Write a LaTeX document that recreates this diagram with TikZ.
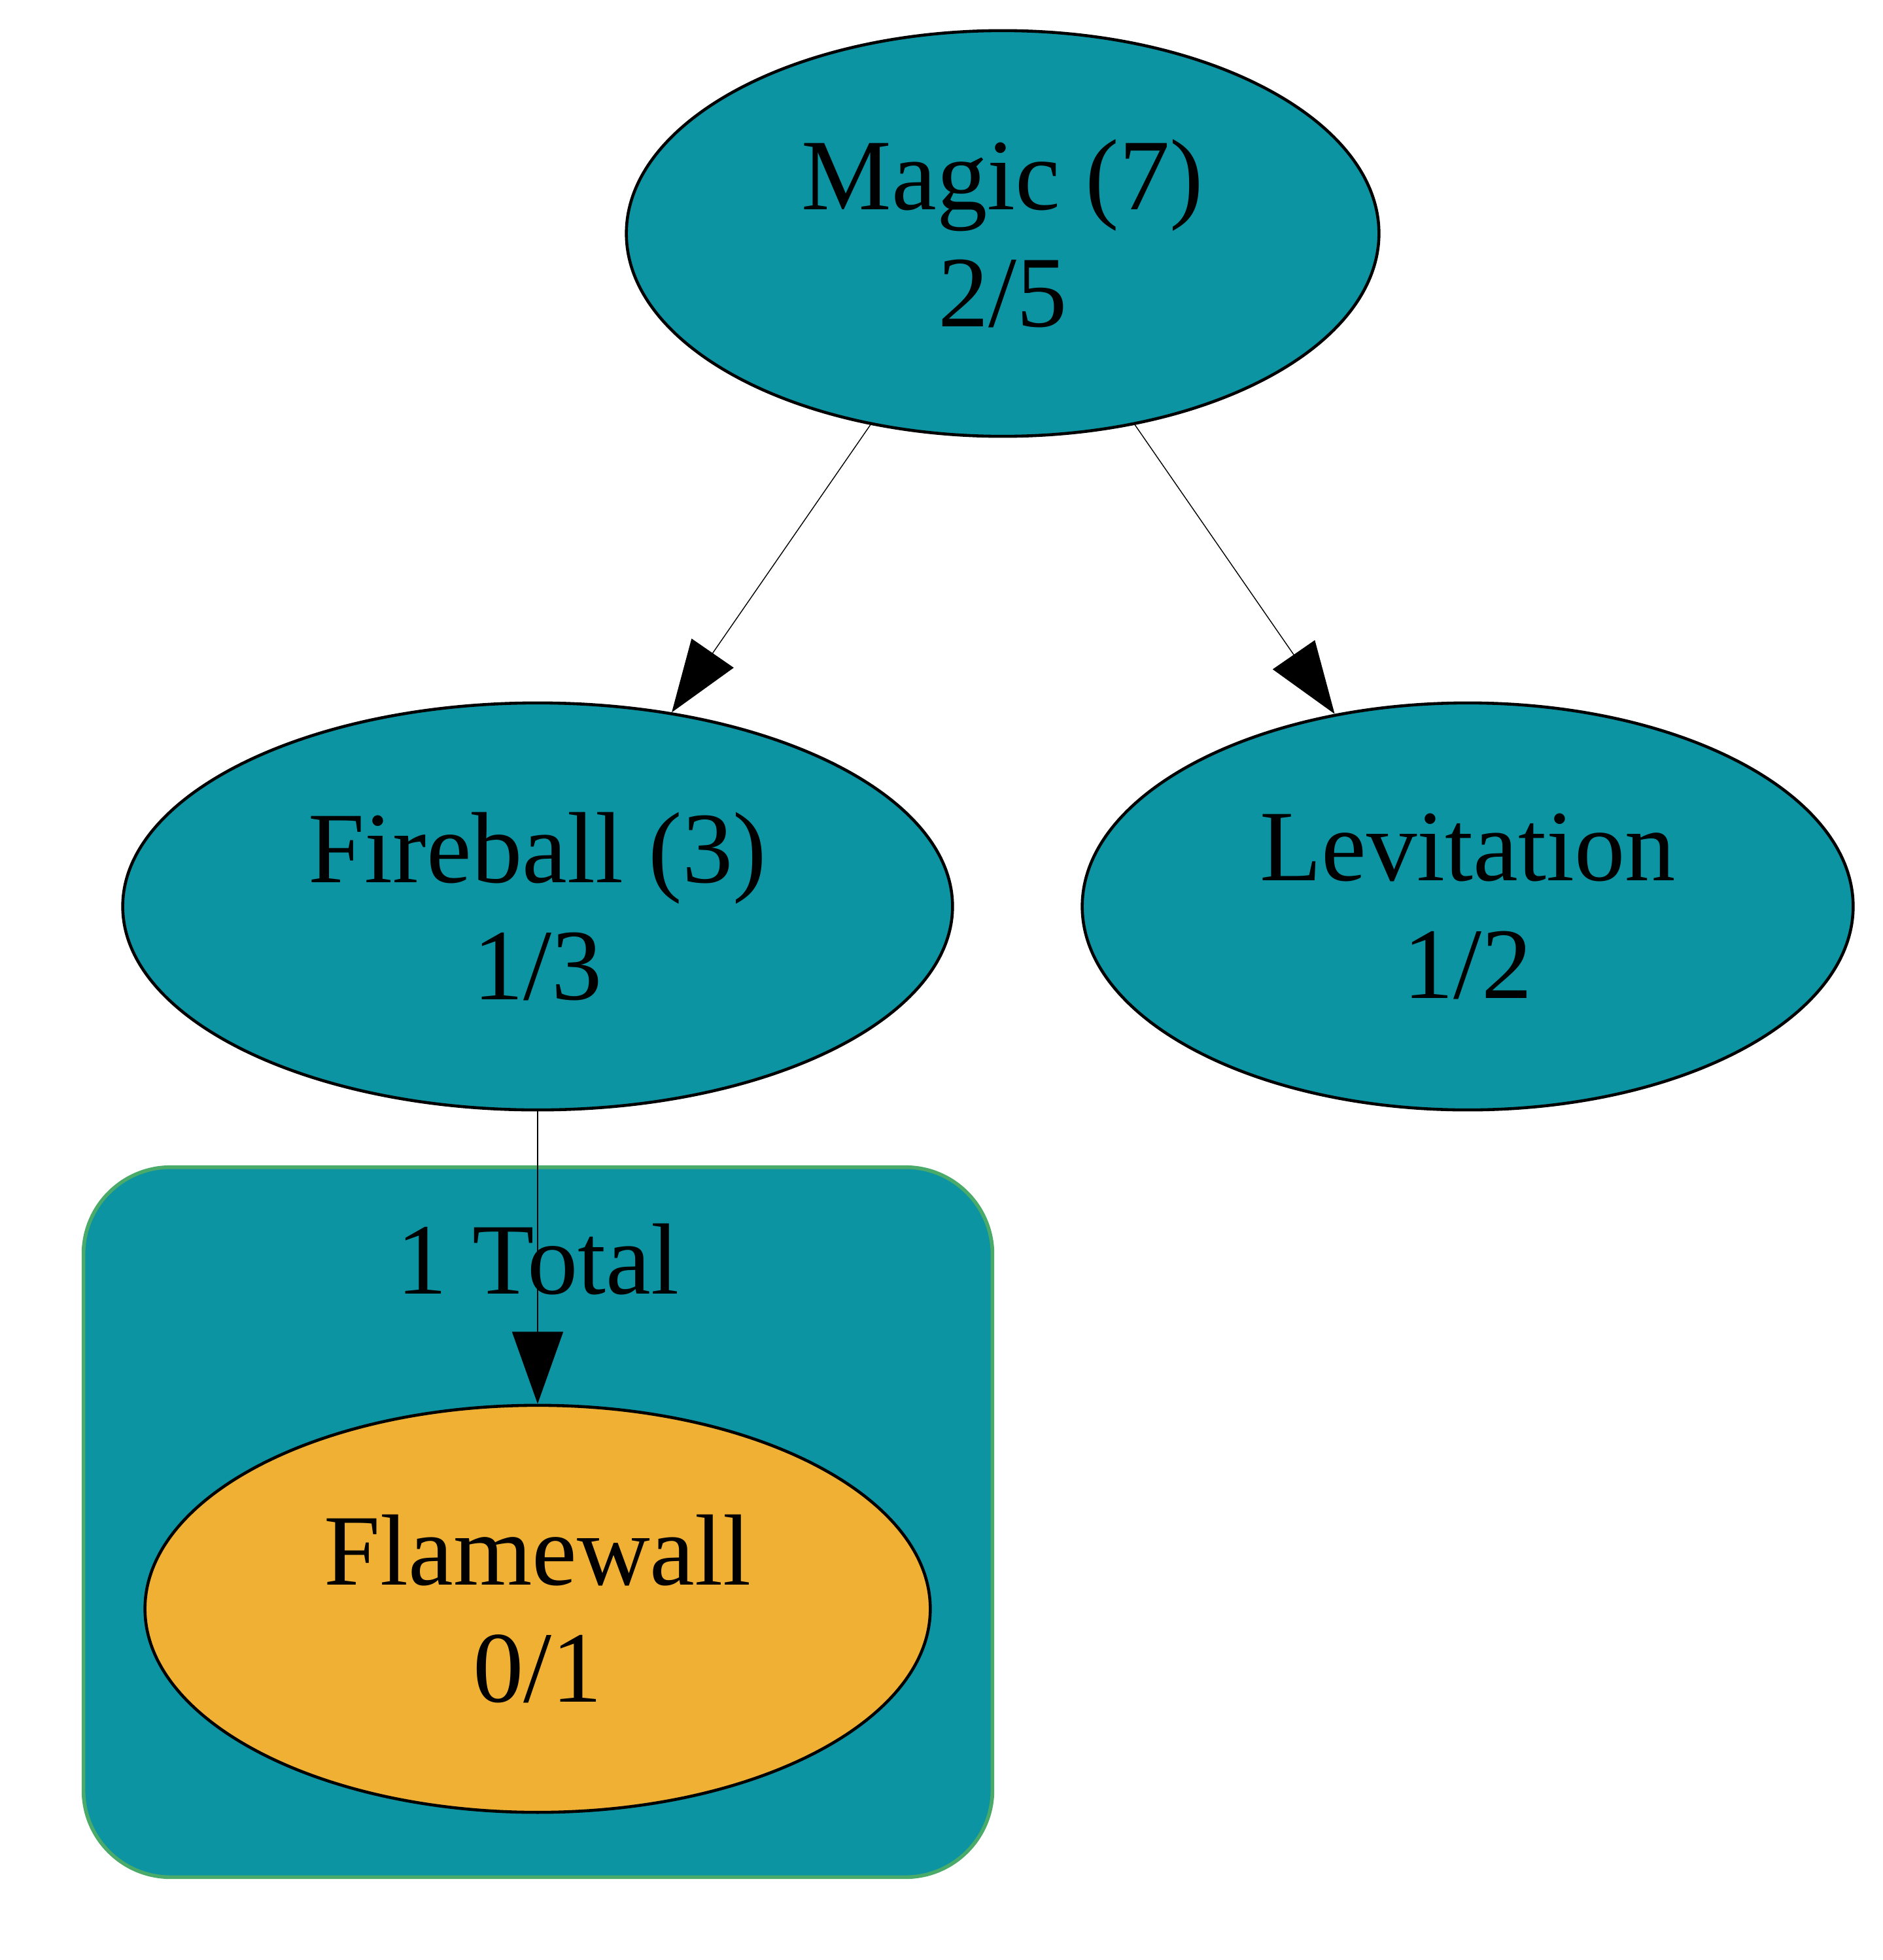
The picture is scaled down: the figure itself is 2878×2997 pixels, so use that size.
\documentclass[tikz,border=0pt]{standalone}
\usepackage{fontspec}
\setmainfont{Liberation Serif}
\usepackage{xcolor}
\usetikzlibrary{arrows.meta, positioning, shapes.geometric}

\definecolor{skillteal}{RGB}{12,148,162}
\definecolor{skillgold}{RGB}{240,176,52}
\definecolor{groupgreen}{RGB}{74,170,106}

\begin{document}
\begin{tikzpicture}[
    x=0.01cm, y=-0.01cm,
    skill/.style={draw, ellipse, inner sep=0pt, line width=1.3pt, fill=skillteal,
        align=center, font=\fontsize{44}{51}\selectfont},
    group/.style={draw=groupgreen, line width=1.6pt, fill=skillteal,
        rounded corners=1.33cm, inner sep=0pt},
    arr/.style={-{Triangle[length=1.1cm, width=0.78cm]}, line width=0.4pt}
]
\useasboundingbox (0,0) rectangle (2878,2997);

% cluster of the fireball's children
\node[group, minimum width=13.89cm, minimum height=10.85cm] (grp) at (822.5,2327.5) {};
\node[font=\fontsize{44}{51}\selectfont] (grplabel) at (822,1926) {1 Total};

\node[skill, minimum width=11.5cm, minimum height=6.2cm] (magic) at (1533,357) {Magic (7)\\2/5};
\node[skill, minimum width=12.68cm, minimum height=6.22cm] (fireball) at (822,1386) {Fireball (3)\\1/3};
\node[skill, minimum width=11.78cm, minimum height=6.22cm] (levit) at (2244,1386) {Levitation\\1/2};
\node[skill, fill=skillgold, minimum width=12.0cm, minimum height=6.22cm] (flame) at (822,2460) {Flamewall\\0/1};

\draw[arr] (magic) -- (fireball);
\draw[arr] (magic) -- (levit);
\draw[arr] (fireball) -- (flame);
\end{tikzpicture}
\end{document}
